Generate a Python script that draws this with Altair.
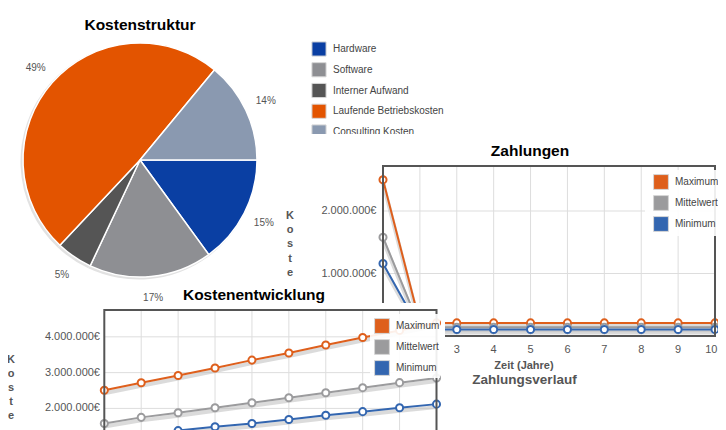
import math
import altair as alt
import pandas as pd

TITLE_FONT = "Liberation Sans"
FONT = "Liberation Sans"

# ---------------- data ----------------
pie_categories = ["Hardware", "Software", "Interner Aufwand", "Laufende Betriebskosten", "Consulting Kosten"]
pie_values = [15, 17, 5, 49, 14]
pie_labels = ["15%", "17%", "5%", "49%", "14%"]
pie_colors = ["#0a3fa3", "#8e8f93", "#555555", "#e35400", "#8a99b0"]

years = [1, 2, 3, 4, 5, 6, 7, 8, 9, 10]
visible_year_ticks = [3, 4, 5, 6, 7, 8, 9]
visible_year_labels = ["3", "4", "5", "6", "7", "8", "9"]
last_year_tick = [10]
last_year_label = ["10"]
series = ["Maximum", "Mittelwert", "Minimum"]
series_colors = ["#de5f1c", "#9b9b9d", "#3366b0"]
legend_colors = ["#e25a10", "#949497", "#2e63b6"]

zahl_max = [2500000, 210000, 210000, 210000, 210000, 210000, 210000, 210000, 210000, 210000]
zahl_mittel = [1580000, 140000, 140000, 140000, 140000, 140000, 140000, 140000, 140000, 140000]
zahl_min = [1160000, 105000, 105000, 105000, 105000, 105000, 105000, 105000, 105000, 105000]

kosten_max = [2510000, 2715000, 2920000, 3130000, 3350000, 3550000, 3770000, 3980000, 4180000, 4390000]
kosten_mittel = [1580000, 1750000, 1880000, 2020000, 2160000, 2300000, 2440000, 2580000, 2720000, 2850000]
kosten_min = [1170000, 1270000, 1380000, 1490000, 1580000, 1690000, 1810000, 1910000, 2020000, 2120000]

zahl_y_ticks = [1000000, 2000000]
zahl_y_labels = ["1.000.000€", "2.000.000€"]
kosten_grid_ticks = [1000000, 2000000, 3000000, 4000000]
kosten_y_ticks = [2000000, 3000000, 4000000]
kosten_y_labels = ["2.000.000€", "3.000.000€", "4.000.000€"]

W, H = 710, 422


def one():
    return pd.DataFrame({"a": [0]})


def text_at(text, x, y, **kw):
    return alt.Chart(pd.DataFrame({"t": [text]})).mark_text(**kw).encode(
        text="t:N", x=alt.value(x), y=alt.value(y))


def panel(x, x2, y, y2, **kw):
    return alt.Chart(one()).mark_rect(**kw).encode(
        x=alt.value(x), x2=alt.value(x2), y=alt.value(y), y2=alt.value(y2))


# ---------------- pie ----------------
pie_df = pd.DataFrame({"cat": pie_categories, "val": pie_values,
                       "lab": pie_labels, "ord": list(range(len(pie_values)))})
pie_base = alt.Chart(pie_df).encode(
    theta=alt.Theta("val:Q", stack=True,
                    scale=alt.Scale(range=[math.pi / 2, math.pi / 2 + 2 * math.pi])),
    order=alt.Order("ord:Q"),
    x=alt.value(132), y=alt.value(152),
)
pie_color = alt.Color("cat:N", scale=alt.Scale(domain=pie_categories, range=pie_colors), legend=None)
pie_shadow = pie_base.mark_arc(radius=118, color="#e2e2e2", xOffset=-1.5, yOffset=1.5)
pie_arcs = pie_base.mark_arc(radius=117, stroke="white", strokeWidth=1.5).encode(color=pie_color)
pie_text = pie_base.mark_text(radius=139, fontSize=10, font=FONT, color="#555").encode(text="lab:N")

leg_y = alt.Y("cat:N", sort=pie_categories, axis=None,
              scale=alt.Scale(type="point", domain=pie_categories, range=[41, 124], padding=0))
pie_leg_sq = alt.Chart(pie_df).mark_square(size=200, filled=True, stroke="#d8d8d8", strokeWidth=1, opacity=1).encode(
    x=alt.value(311), y=leg_y, color=pie_color)
pie_leg_tx = alt.Chart(pie_df).mark_text(align="left", baseline="middle", fontSize=10, font=FONT, color="#444").encode(
    x=alt.value(325), y=leg_y, text="cat:N")
pie_title = text_at("Kostenstruktur", 132, 17, fontSize=15.5, font=TITLE_FONT, fontWeight="bold",
                    color="black", baseline="middle", align="center")

pie_group = alt.layer(pie_shadow, pie_arcs, pie_text, pie_leg_sq, pie_leg_tx, pie_title)


# ---------------- line chart helper ----------------
def line_group(vals, x_range, y_max, y_range, grid_ticks, y_ticks, y_labels, label_x, x_tick_sets, x_label_y):
    rows = []
    for s, arr in zip(series, vals):
        for yr, v in zip(years, arr):
            rows.append({"year": yr, "value": v, "series": s})
    df = pd.DataFrame(rows)
    sx = alt.Scale(domain=[1, 10], range=x_range)
    sy = alt.Scale(domain=[0, y_max], range=y_range)
    col = alt.Color("series:N", scale=alt.Scale(domain=series, range=series_colors), legend=None)

    frame_bg = alt.Chart(one()).mark_rect(fill="white").encode(
        x=alt.XDatum(1, scale=sx, axis=None), x2=alt.X2Datum(10),
        y=alt.YDatum(0, scale=sy, axis=None), y2=alt.Y2Datum(y_max))
    vgrid = alt.Chart(pd.DataFrame({"g": years[1:-1]})).mark_rule(color="#dddddd", strokeWidth=1).encode(
        x=alt.X("g:Q", scale=sx, axis=None),
        y=alt.YDatum(0, scale=sy, axis=None), y2=alt.Y2Datum(y_max))
    hgrid = alt.Chart(pd.DataFrame({"t": grid_ticks})).mark_rule(color="#dddddd", strokeWidth=1).encode(
        y=alt.Y("t:Q", scale=sy, axis=None),
        x=alt.XDatum(1, scale=sx, axis=None), x2=alt.X2Datum(10))
    ylab = alt.Chart(pd.DataFrame({"t": y_ticks, "l": y_labels})).mark_text(
        align="right", baseline="middle", fontSize=11, font=FONT, color="#555").encode(
        y=alt.Y("t:Q", scale=sy, axis=None), x=alt.value(label_x), text="l:N")
    shadow = alt.Chart(df).mark_line(color="#bdbdbd", strokeWidth=4, opacity=0.55, yOffset=3).encode(
        x=alt.X("year:Q", scale=sx, axis=None), y=alt.Y("value:Q", scale=sy, axis=None), detail="series:N")
    lines = alt.Chart(df).mark_line(strokeWidth=2).encode(
        x=alt.X("year:Q", scale=sx, axis=None), y=alt.Y("value:Q", scale=sy, axis=None), color=col)
    pts = alt.Chart(df).mark_point(filled=False, fill="white", fillOpacity=1, strokeWidth=2, size=50, opacity=1).encode(
        x=alt.X("year:Q", scale=sx, axis=None), y=alt.Y("value:Q", scale=sy, axis=None), color=col)
    frame = alt.Chart(one()).mark_rect(fill=None, filled=False, stroke="#555555", strokeWidth=2).encode(
        x=alt.XDatum(1, scale=sx, axis=None), x2=alt.X2Datum(10),
        y=alt.YDatum(0, scale=sy, axis=None), y2=alt.Y2Datum(y_max))
    layers = [frame_bg, vgrid, hgrid, ylab, shadow, lines, pts, frame]
    for ticks, labels, align, dx in x_tick_sets:
        xlab = alt.Chart(pd.DataFrame({"year": ticks, "l": labels})).mark_text(
            align=align, dx=dx, baseline="middle", fontSize=11, font=FONT, color="#555").encode(
            x=alt.X("year:Q", scale=sx, axis=None), y=alt.value(x_label_y), text="l:N")
        layers.append(xlab)
    return layers


def legend_layers(bg, sq_x, tx_x, y_range):
    ldf = pd.DataFrame({"series": series})
    ly = alt.Y("series:N", sort=series, axis=None,
               scale=alt.Scale(type="point", domain=series, range=y_range, padding=0))
    col = alt.Color("series:N", scale=alt.Scale(domain=series, range=legend_colors), legend=None)
    box = panel(*bg, fill="white", opacity=0.9)
    sq = alt.Chart(ldf).mark_square(size=220, filled=True, stroke="#d6d6d6", strokeWidth=1, opacity=1).encode(
        x=alt.value(sq_x), y=ly, color=col)
    tx = alt.Chart(ldf).mark_text(align="left", baseline="middle", fontSize=10, font=FONT, color="#444").encode(
        x=alt.value(tx_x), y=ly, text="series:N")
    return [box, sq, tx]


# ---------------- Zahlungen ----------------
z_layers = line_group([zahl_max, zahl_mittel, zahl_min], [375, 707], 2720000, [328, 158],
                      zahl_y_ticks, zahl_y_ticks, zahl_y_labels, 368.5,
                      [(visible_year_ticks, visible_year_labels, "center", 0),
                       (last_year_tick, last_year_label, "right", 2.5)], 342)
z_bg = panel(274, W, 126, H, fill="white")
z_title = text_at("Zahlungen", 522, 143, fontSize=15.5, font=TITLE_FONT, fontWeight="bold",
                  color="black", baseline="middle", align="center")
z_ytitle = text_at("K\no\ns\nt\ne", 282, 202, fontSize=11, font=FONT, fontWeight="bold", color="#555",
                   baseline="top", align="center", lineBreak="\n", lineHeight=14.2)
z_xtitle = text_at("Zeit (Jahre)", 516, 358, fontSize=11, font=FONT, fontWeight="bold", color="#555",
                   baseline="middle", align="center")
z_sub = text_at("Zahlungsverlauf", 516.5, 372, fontSize=13.5, font=FONT, fontWeight="bold", color="#555",
                baseline="middle", align="center")
z_leg = legend_layers((637, W, 162, 228), 653, 667, [174, 216])
zahl_group = alt.layer(z_bg, *z_layers, z_title, z_ytitle, z_xtitle, z_sub, *z_leg)

# ---------------- Kostenentwicklung ----------------
k_layers = line_group([kosten_max, kosten_mittel, kosten_min], [96.3, 428.5], 4750000, [472, 302],
                      kosten_grid_ticks, kosten_y_ticks, kosten_y_labels, 92, [], 0)
k_bg = panel(0, 437, 295, H, fill="white")
k_title = text_at("Kostenentwicklung", 246, 287, fontSize=15.5, font=TITLE_FONT, fontWeight="bold",
                  color="black", baseline="middle", align="center")
k_ytitle = text_at("K\no\ns\nt\ne", 3, 346, fontSize=11, font=FONT, fontWeight="bold", color="#555",
                   baseline="top", align="center", lineBreak="\n", lineHeight=14)
k_leg = legend_layers((362, 432, 306, 370), 374, 388, [318, 360])
kost_group = alt.layer(k_bg, *k_layers, k_title, k_ytitle, *k_leg)

chart = alt.layer(pie_group, zahl_group, kost_group).resolve_scale(
    x="independent", y="independent", color="independent", theta="independent"
).properties(
    width=W, height=H, autosize=alt.AutoSizeParams(type="none"), padding=0
).configure_view(stroke=None)

chart.save("out.html", embed_options={"renderer": "svg", "actions": False})
